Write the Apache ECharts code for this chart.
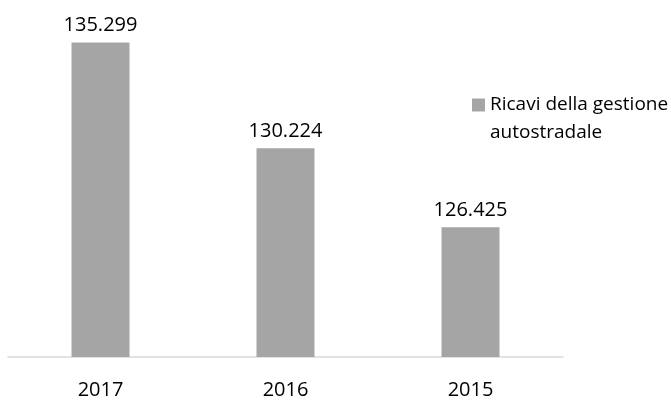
<!DOCTYPE html>
<html>
<head>
<meta charset="utf-8">
<script src="https://cdn.jsdelivr.net/npm/echarts@6/dist/echarts.min.js"></script>
<style>html,body{margin:0;padding:0;background:#fff}#c{width:671px;height:401px}</style>
</head>
<body>
<div id="c"></div>
<script>
const categories = ['2017', '2016', '2015'];
const seriesName = 'Ricavi della gestione\nautostradale';
const values = [135.299, 130.224, 126.425];

const chart = echarts.init(document.getElementById('c'));
chart.setOption({
  animation: false,
  grid: { left: 8, right: 108, top: 7, bottom: 44 },
  legend: {
    left: 467, top: 58,
    itemWidth: 13, itemHeight: 13,
    icon: 'rect',
    formatter: n => '\n' + n,
    textStyle: { fontFamily: 'Open Sans', fontSize: 19, color: '#000', lineHeight: 28 },
    data: [seriesName]
  },
  xAxis: {
    type: 'category', data: categories,
    axisLine: { lineStyle: { color: '#d9d9d9', width: 1.5 } },
    axisTick: { show: false },
    axisLabel: { fontFamily: 'Open Sans', fontSize: 20, color: '#000', margin: 23 }
  },
  yAxis: { type: 'value', min: 120.2, max: 137, show: false, splitLine: { show: false } },
  series: [{
    type: 'bar', name: seriesName, data: values, barWidth: 58,
    itemStyle: { color: '#a5a5a5' },
    label: {
      show: true, position: 'top', distance: 7,
      fontFamily: 'Open Sans', fontSize: 20, color: '#000',
      formatter: p => p.value.toFixed(3)
    }
  }]
});
</script>
</body>
</html>
